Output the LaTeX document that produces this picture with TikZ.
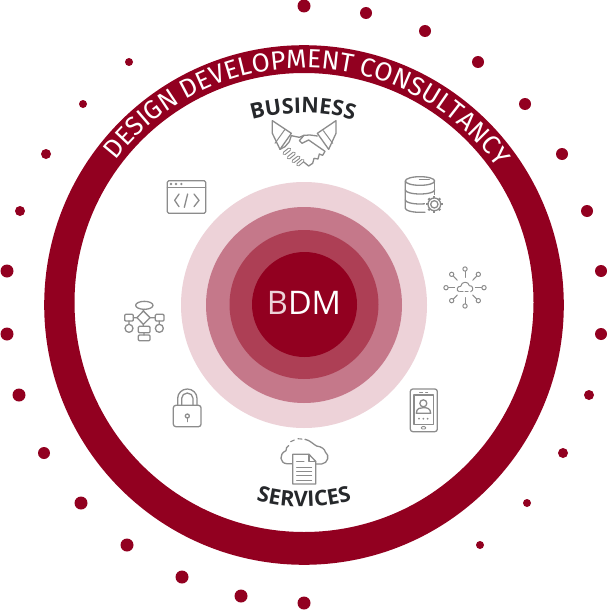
\documentclass[tikz,border=0pt]{standalone}
\usepackage{fontspec}
\usetikzlibrary{decorations.text}
\newfontfamily\firas{Fira Sans}
\newfontfamily\opens{Open Sans}
\newcommand\bandfont{\firas\fontsize{26.2}{26.2}\selectfont}
\newcommand\titlefont{\opens\bfseries\fontsize{21.5}{21.5}\selectfont}
\definecolor{bdmred}{HTML}{920020}
\definecolor{ringa}{HTML}{EDD2D8}
\definecolor{ringb}{HTML}{C5788A}
\definecolor{ringc}{HTML}{AD3F55}
\definecolor{icongray}{HTML}{8C8C8C}
\definecolor{titleink}{HTML}{26282B}
\tikzset{
  px/.style={x=1pt,y=-1pt},
  zoomed/.style={x=0.33333pt,y=-0.33333pt},
  ico/.style={draw=icongray,line width=1.3pt,line join=round,line cap=round},
  icothin/.style={draw=icongray,line width=1pt,line cap=round},
  reddot/.style={fill=bdmred}
}
\begin{document}
\begin{tikzpicture}[px]
\useasboundingbox[fill=white] (0,0) rectangle (607,610);
% outer dots
\foreach \x/\y/\r in {304/6/6.5,366/13/6,425/31/6,478/62/6,525/104/6,562/154/6,587/211/6,601/271/6,601/334/6,589/395/5,563/453/5,527/503/4,480/545/4,
  304/603/6.5,241/596/6.5,182/577/6.5,127/545/6.5,81/503/6.5,44/453/6,19/395/6.5,7/334/6.5,7/271/6.5,20/211/5,46/154/5,83/104/4,129/62/4}
  \fill[reddot] (\x,\y) circle[radius=\r pt];
% band
\fill[bdmred,even odd rule] (304,305) circle[radius=259.8pt] (304,302.5) circle[radius=229.5pt];
% concentric
\fill[ringa] (304,305) circle[radius=123pt];
\fill[ringb] (304,305) circle[radius=98pt];
\fill[ringc] (304,304.5) circle[radius=74.5pt];
\fill[bdmred] (304.5,304.5) circle[radius=52.5pt];
\node[inner sep=0pt,text=white] (bdm) at (304,303) {\opens\fontsize{32.5}{32.5}\selectfont\textcolor{ringa}{B}DM};
% band text
\path[decorate,decoration={text along path,text align=center,text color=white,
  text={|\bandfont|DESIGN DEVELOPMENT CONSULTANCY}}]
  ({304+238*cos(170)},{306-238*sin(170)}) arc[start angle=170,end angle=8,radius=238pt];
\path[decorate,decoration={text along path,text align=center,text color=titleink,
  text={|\titlefont|BUSINESS}}]
  ({303+186*cos(140)},{299-186*sin(140)}) arc[start angle=140,end angle=40,radius=186pt];
\path[decorate,decoration={text along path,text align=center,text color=titleink,
  text={|\titlefont|SERVICES}}]
  ({304+175*cos(235)},{332-175*sin(235)}) arc[start angle=235,end angle=305,radius=175pt];
% handshake
\begin{scope}[zoomed,shift={(230pt,-90pt)}]
\draw[ico] (127,92)--(184,130)--(150,178)--(127,130)--cycle;
\draw[ico] (318,92)--(262,130)--(296,178)--(318,130)--cycle;
\draw[icothin] (165,118)--(135,160) (280,122)--(308,160);
\draw[ico] (184,137)--(208,142)--(222,136)--(240,135)--(262,138);
\draw[ico] (222,136)--(208,152)--(216,160)--(236,150)--(285,184)--(278,196)--(268,192)--(264,207)--(252,205)--(248,220)--(236,228)--(220,215);
\draw[ico] (150,178)--(165,170)--(178,155)--(184,137);
\foreach \a/\b/\c/\d in {163/190/178/178,176/203/192/190,190/214/206/202,204/224/218/212}{
  \draw[icongray,line width=3.8pt,line cap=round] (\a,\b)--(\c,\d);
  \draw[white,line width=1.6pt,line cap=round] (\a,\b)--(\c,\d);}
\end{scope}
% database
\begin{scope}[zoomed,shift={(390pt,-165pt)}]
\draw[ico] (90,48) ellipse[x radius=44,y radius=13];
\draw[ico] (46,48)--(46,130) arc[start angle=180,end angle=270,x radius=44,y radius=-12]--(105,142);
\draw[ico] (134,48)--(134,95);
\draw[ico] (46,75) arc[start angle=180,end angle=360,x radius=44,y radius=-12];
\draw[ico] (46,105) arc[start angle=180,end angle=300,x radius=44,y radius=-12];
\draw[ico,line width=.9pt] (88,43)--(118,43);
\fill[white] (133,118) circle[radius=28];
\foreach \t in {0,45,...,315}
  \draw[icongray,line width=2.2pt] ({133+18*cos(\t)},{118+18*sin(\t)}) -- ({133+25*cos(\t)},{118+25*sin(\t)});
\draw[ico] (133,118) circle[radius=19];
\draw[ico] (133,118) circle[radius=11];
\end{scope}
% network cloud
\begin{scope}[zoomed,shift={(390pt,-165pt)}]
\foreach \p/\q/\u/\v in {225/312/225/337,265/328/248/346,282/368/256/368,265/407/248/390,225/423/225/398,185/407/202/390,168/368/194/368,185/328/202/346}{
  \draw[icothin,line width=1pt] (\p,\q)--(\u,\v);
  \draw[ico,line width=1pt,fill=white] (\p,\q) circle[radius=6.5];}
\draw[ico,line width=1pt] (208,380) .. controls (196,378) and (202,362) .. (212,364)
  .. controls (214,348) and (236,348) .. (238,362) .. controls (250,360) and (252,378) .. (242,380);
\draw[icothin,dashed,dash pattern=on 3pt off 2pt] (210,380)--(240,380);
\end{scope}
% code window
\begin{scope}[zoomed,shift={(110pt,-170pt)}]
\draw[ico,rounded corners=1.5pt] (172,32) rectangle (287,130);
\draw[ico] (172,52)--(287,52);
\foreach \x in {183,198,214} \fill[icongray] (\x,42) circle[radius=4];
\draw[ico] (207,72)--(194,91)--(207,110) (252,72)--(267,91)--(252,110) (233,72)--(223,112);
\end{scope}
% flowchart
\begin{scope}[zoomed,shift={(110pt,-170pt)}]
\draw[ico] (103,406) ellipse[x radius=26,y radius=12];
\draw[ico] (100,423)--(120,443)--(100,463)--(81,443)--cycle;
\draw[ico,rounded corners=1pt] (44,433) rectangle (70,453);
\draw[ico,rounded corners=1pt] (136,433) rectangle (162,453);
\draw[ico,rounded corners=1pt] (85,469) rectangle (120,488);
\draw[ico,rounded corners=1pt] (85,495) rectangle (120,512);
\draw[ico] (57,475) circle[radius=12];
\draw[ico] (148,475) circle[radius=12];
\draw[ico] (102,418)--(100,423) (70,443)--(81,443) (120,443)--(136,443) (100,463)--(100,469) (102,488)--(102,495) (57,453)--(57,463) (148,453)--(148,463);
\end{scope}
% lock, phone, cloud document
\begin{scope}[zoomed,shift={(160pt,-380pt)}]
\draw[ico,rounded corners=2.5pt] (40,76) rectangle (123,140);
\draw[ico] (53,76)--(53,55) arc[start angle=180,end angle=0,x radius=29,y radius=-28]--(111,76);
\draw[ico] (65,76)--(65,55) arc[start angle=180,end angle=0,x radius=17,y radius=-16]--(99,76);
\draw[ico] (82,108) circle[radius=6];
\draw[ico] (82,114)--(82,125);
% phone
\draw[ico,rounded corners=2.5pt] (751,27) rectangle (832,155);
\draw[ico] (762,45) rectangle (820,134);
\draw[icothin,dash pattern=on 3pt off 3pt,line width=.9pt] (779,37)--(803,37);
\draw[ico] (790,70) circle[radius=10.5];
\draw[ico] (769,100) .. controls (769,84) and (781,83) .. (790,83) .. controls (800,83) and (812,84) .. (812,100) -- cycle;
\foreach \x in {777,790,803} \fill[icongray] (\x,116) circle[radius=3];
\draw[ico,rounded corners=1pt,line width=.9pt] (784,140) rectangle (797,147);
% cloud
\draw[ico] (397,251) -- (380,251) .. controls (360,250) and (355,222) .. (378,212)
  .. controls (376,205) and (382,200) .. (386,197);
\draw[icothin,line width=1.1pt,dash pattern=on 4pt off 4pt] (392,185)--(412,176)--(435,178);
\draw[ico] (435,178) .. controls (450,180) and (462,195) .. (470,198) .. controls (486,200) and (494,208) .. (496,216)
  .. controls (510,226) and (504,250) .. (485,252) -- (467,252);
\fill[white] (398,223) -- (447,223) -- (467,244) -- (467,312) -- (398,312) -- cycle;
\draw[ico] (398,223) -- (447,223) -- (467,244) -- (467,312) -- (398,312) -- cycle;
\draw[ico] (447,223) -- (447,244) -- (467,244);
\draw[icothin] (410,245)--(432,245) (410,262)--(455,262) (410,275)--(455,275) (410,287)--(455,287) (410,300)--(455,300);
\end{scope}
\end{tikzpicture}
\end{document}
